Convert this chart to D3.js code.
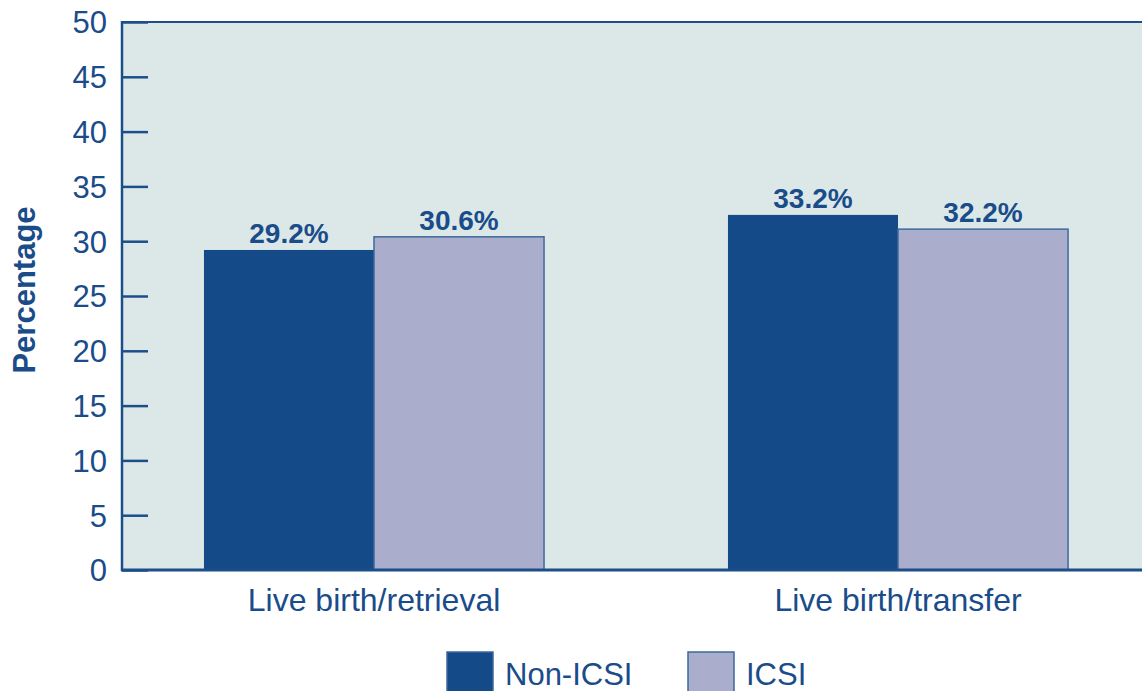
<!DOCTYPE html>
<html><head><meta charset="utf-8">
<script src="https://cdn.jsdelivr.net/npm/d3@7"></script>
<style>body{margin:0;background:#fff}svg{display:block;font-family:"Liberation Sans",Arial,sans-serif}</style>
</head><body><svg id="c" width="1142" height="691"></svg>
<script>
const categories = ["Live birth/retrieval", "Live birth/transfer"];
const seriesNames = ["Non-ICSI", "ICSI"];
const nonIcsi = [29.2, 32.4];
const icsi = [30.4, 31.1];
const nonIcsiLabels = ["29.2%", "33.2%"];
const icsiLabels = ["30.6%", "32.2%"];
const yTicks = [0, 5, 10, 15, 20, 25, 30, 35, 40, 45, 50];

const colors = {"Non-ICSI": "#134a87", "ICSI": "#aaadcb"};
const textColor = "#1a4c8a";
const svg = d3.select("#c");

const y = d3.scaleLinear().domain([0, 50]).range([570, 22]);
const x0 = d3.scaleBand().domain(categories).range([112, 1160]).paddingInner(0.351).paddingOuter(0.1755);
const x1 = d3.scaleBand().domain(seriesNames).range([0, x0.bandwidth()]);

// plot background
svg.append("rect").attr("x", 122).attr("y", 22).attr("width", 1030).attr("height", 548)
  .attr("fill", "#dce8e8").attr("stroke", "#1c4f8a").attr("stroke-width", 2);

const rows = categories.map((c, i) => ({cat: c, vals: [
  {s: "Non-ICSI", v: nonIcsi[i], lab: nonIcsiLabels[i]},
  {s: "ICSI", v: icsi[i], lab: icsiLabels[i]}]}));

const g = svg.selectAll("g.grp").data(rows).join("g").attr("class", "grp")
  .attr("transform", d => `translate(${x0(d.cat)},0)`);
g.selectAll("rect").data(d => d.vals).join("rect")
  .attr("x", d => x1(d.s)).attr("width", x1.bandwidth())
  .attr("y", d => y(d.v)).attr("height", d => y(0) - y(d.v))
  .attr("fill", d => colors[d.s])
  .attr("stroke", d => d.s === "ICSI" ? "#3d6a9c" : "none").attr("stroke-width", 1.5);
g.selectAll("text").data(d => d.vals).join("text")
  .attr("x", d => x1(d.s) + x1.bandwidth() / 2).attr("y", d => y(d.v) - 7)
  .attr("text-anchor", "middle").attr("font-size", 28).attr("font-weight", "bold")
  .attr("fill", textColor).text(d => d.lab);

// y axis
const ya = svg.append("g").attr("transform", "translate(122,0)")
  .call(d3.axisRight(y).tickValues(yTicks).tickSize(26).tickFormat(d3.format("d")));
ya.select(".domain").remove();
ya.selectAll(".tick line").attr("stroke", "#1c4f8a").attr("stroke-width", 2.5);
ya.selectAll(".tick text").attr("x", -15).attr("text-anchor", "end").attr("font-size", 31)
  .attr("fill", textColor).attr("dy", "0.35em");
svg.append("line").attr("x1", 122).attr("x2", 122).attr("y1", 21).attr("y2", 571)
  .attr("stroke", "#1c4f8a").attr("stroke-width", 2.5);
// x axis
const xa = svg.append("g").attr("transform", "translate(0,570)")
  .call(d3.axisBottom(x0).tickSize(0));
xa.select(".domain").remove();
xa.selectAll(".tick text").attr("font-size", 32).attr("fill", textColor).attr("dy", 0).attr("y", 41);
svg.append("line").attr("x1", 121).attr("x2", 1142).attr("y1", 570).attr("y2", 570)
  .attr("stroke", "#1c4f8a").attr("stroke-width", 3);

// y title
svg.append("text").attr("transform", "translate(35,290) rotate(-90)").attr("text-anchor", "middle")
  .attr("font-size", 31).attr("font-weight", "bold").attr("fill", textColor).text("Percentage");

// legend
const legX = [447, 688];
const lg = svg.selectAll("g.leg").data(seriesNames).join("g").attr("class", "leg")
  .attr("transform", (d, i) => `translate(${legX[i]},652)`);
lg.append("rect").attr("width", 46).attr("height", 46).attr("fill", d => colors[d])
  .attr("stroke", "#3d6a9c").attr("stroke-width", 1.5);
lg.append("text").attr("x", 58).attr("y", 33).attr("font-size", 31).attr("fill", textColor).text(d => d);
</script></body></html>
